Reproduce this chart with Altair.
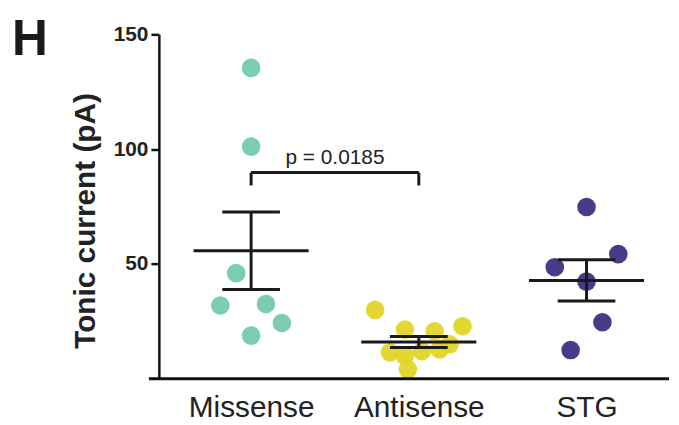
import altair as alt
import pandas as pd

# ---- data ----
groups = ["Missense", "Antisense", "STG"]
colors = ["#6fc8ae", "#e3d41f", "#3a2a80"]

missense = [135.4, 101.1, 46.0, 31.9, 32.6, 24.3, 18.8]
missense_jit = [0, 0, -15, -31, 15, 31, 0]          # horizontal swarm offset (px)
antisense = [30.0, 21.4, 20.7, 22.9, 11.5, 10.0, 12.0, 12.8, 15.0, 4.1]
antisense_jit = [-44, -14, 16, 44, -29, -14, 3, 21, 31, -11]
stg = [74.8, 54.3, 48.6, 42.3, 24.6, 12.5]
stg_jit = [0, 32, -32, 0, 16, -16]

y_ticks = [50, 100, 150]
p_text = "p = 0.0185"
bracket_from, bracket_to = 0, 1
bracket_y, bracket_drop = 89.8, 84.2
p_text_y = 93.7

W, H = 512, 347
PX = 169.0  # pixels per group step

rows = []
for gi, (vals, jit) in enumerate([(missense, missense_jit),
                                  (antisense, antisense_jit),
                                  (stg, stg_jit)]):
    for v, j in zip(vals, jit):
        rows.append({"group": groups[gi], "gi": gi, "value": v,
                     "xpos": gi + j / PX})
df = pd.DataFrame(rows)

xscale = alt.Scale(domain=[-0.55, 2.48], nice=False, zero=False)
yscale = alt.Scale(domain=[0, 150], nice=False)

label_expr = "datum.value == 0 ? 'Missense' : datum.value == 1 ? 'Antisense' : 'STG'"

base = alt.Chart(df)

points = base.mark_circle(size=350, opacity=0.92).encode(
    x=alt.X("xpos:Q", scale=xscale,
            axis=alt.Axis(values=[0, 1, 2], labelExpr=label_expr, title=None,
                          domain=False, ticks=False, grid=False,
                          labelFontSize=30, labelFont="Liberation Sans",
                          labelColor="#222", labelPadding=14)),
    y=alt.Y("value:Q", scale=yscale,
            axis=alt.Axis(values=y_ticks, title=None, grid=False,
                          domain=True, domainColor="#111", domainWidth=2.5,
                          tickColor="#111", tickWidth=2.5, tickSize=8,
                          labelFontSize=21, labelFontWeight="bold",
                          labelFont="Liberation Sans", labelColor="#222",
                          labelPadding=3)),
    color=alt.Color("group:N", scale=alt.Scale(domain=groups, range=colors),
                    legend=None),
)

summary = base.transform_aggregate(
    mean="mean(value)", sem="stderr(value)", groupby=["group", "gi"]
).transform_calculate(
    lo="datum.mean - datum.sem", hi="datum.mean + datum.sem",
    mx1="datum.gi - 0.343", mx2="datum.gi + 0.343",
    cx1="datum.gi - 0.172", cx2="datum.gi + 0.172",
)

line_style = dict(color="#1a1a1a", strokeWidth=3)
mean_line = summary.mark_rule(**line_style).encode(
    x=alt.X("mx1:Q", scale=xscale), x2="mx2:Q", y=alt.Y("mean:Q", scale=yscale))
cap_hi = summary.mark_rule(**line_style).encode(
    x=alt.X("cx1:Q", scale=xscale), x2="cx2:Q", y=alt.Y("hi:Q", scale=yscale))
cap_lo = summary.mark_rule(**line_style).encode(
    x=alt.X("cx1:Q", scale=xscale), x2="cx2:Q", y=alt.Y("lo:Q", scale=yscale))
vbar = summary.mark_rule(**line_style).encode(
    x=alt.X("gi:Q", scale=xscale), y=alt.Y("lo:Q", scale=yscale), y2="hi:Q")

# significance bracket
br = pd.DataFrame({"x1": [bracket_from], "x2": [bracket_to],
                   "y": [bracket_y], "yd": [bracket_drop]})
br_h = alt.Chart(br).mark_rule(**line_style).encode(
    x=alt.X("x1:Q", scale=xscale), x2="x2:Q", y=alt.Y("y:Q", scale=yscale))
br_l = alt.Chart(br).mark_rule(**line_style).encode(
    x=alt.X("x1:Q", scale=xscale), y=alt.Y("yd:Q", scale=yscale), y2="y:Q")
br_r = alt.Chart(br).mark_rule(**line_style).encode(
    x=alt.X("x2:Q", scale=xscale), y=alt.Y("yd:Q", scale=yscale), y2="y:Q")
ptxt = alt.Chart(pd.DataFrame({"x": [(bracket_from + bracket_to) / 2],
                               "y": [p_text_y], "t": [p_text]})).mark_text(
    font="Liberation Sans", fontSize=21, color="#222", align="center",
    baseline="alphabetic").encode(
    x=alt.X("x:Q", scale=xscale), y=alt.Y("y:Q", scale=yscale), text="t:N")

# x axis line (extends a little left of the y axis)
xline = alt.Chart(pd.DataFrame({"a": [0]})).mark_rule(
    color="#111", strokeWidth=3).encode(
    x=alt.value(-10), x2=alt.value(W + 2), y=alt.value(H))

ytitle = alt.Chart(pd.DataFrame({"t": ["Tonic current (pA)"]})).mark_text(
    font="Liberation Sans", fontSize=30, fontWeight="bold", color="#222",
    angle=270, align="center", baseline="middle").encode(
    x=alt.value(-73), y=alt.value(188), text="t:N")

panel = alt.Chart(pd.DataFrame({"t": ["H"]})).mark_text(
    font="Liberation Sans", fontSize=50, fontWeight="bold", color="#1a1a1a",
    align="left", baseline="alphabetic").encode(
    x=alt.value(-148), y=alt.value(21), text="t:N")

chart = alt.layer(
    points, mean_line, cap_hi, cap_lo, vbar, br_h, br_l, br_r, ptxt,
    xline, ytitle, panel
).properties(
    width=W, height=H,
    autosize=alt.AutoSizeParams(type="none"),
    padding={"left": 152, "top": 25, "right": 4, "bottom": 44},
    background="white",
).configure_view(stroke=None)

chart.save("out.html", embed_options={"renderer": "svg", "actions": False})
